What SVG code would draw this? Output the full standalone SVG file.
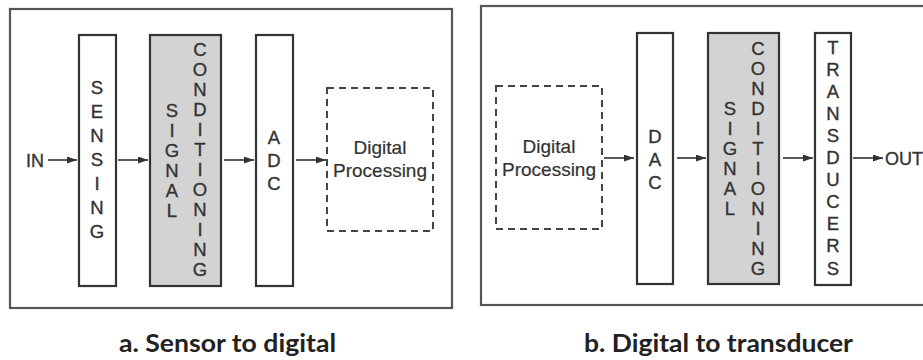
<svg xmlns="http://www.w3.org/2000/svg" width="923" height="360" viewBox="0 0 923 360">
<style>
.panel{fill:#fff;stroke:#555;stroke-width:2.2}
.blk{fill:#fff;stroke:#333;stroke-width:2.2}
.gray{fill:#d3d3d3;stroke:#333;stroke-width:2.2}
.dash{fill:none;stroke:#444;stroke-width:2;stroke-dasharray:7 5}
.lt{font-family:"Liberation Sans",Arial,sans-serif;font-size:18.5px;fill:#333;stroke:#333;stroke-width:0.35;text-anchor:middle}
.lbl{font-family:"Liberation Sans",Arial,sans-serif;font-size:18px;fill:#333;stroke:#333;stroke-width:0.35}
.dp{font-family:"Liberation Sans",Arial,sans-serif;font-size:19px;fill:#333;stroke:#333;stroke-width:0.2;text-anchor:middle}
.cap{font-family:"Lato","Open Sans",sans-serif;font-size:24px;font-weight:bold;fill:#222}
.conn line{stroke:#333;stroke-width:1.6;marker-end:url(#ah)}
</style>
<defs>
<marker id="ah" markerUnits="userSpaceOnUse" markerWidth="11" markerHeight="8" refX="10" refY="3.5" orient="auto">
<path d="M0,0 L10,3.5 L0,7 z" fill="#333"/>
</marker>
</defs>
<rect x="0" y="0" width="923" height="360" fill="#fff"/>
<g id="panelA">
<rect class="panel" x="10" y="9" width="442" height="299"/>
</g>
<g id="panelB">
<rect class="panel" x="481" y="6" width="460" height="299"/>
</g>

<!-- Panel a -->
<g id="in"><text class="lbl" x="26" y="166.5">IN</text></g>
<g id="sensing">
<rect class="blk" x="79" y="35" width="37" height="251"/>
<text class="lt"><tspan x="97" y="93.5">S</tspan><tspan x="97" y="117.5">E</tspan><tspan x="97" y="141.5">N</tspan><tspan x="97" y="165.5">S</tspan><tspan x="97" y="189.5">I</tspan><tspan x="97" y="213.5">N</tspan><tspan x="97" y="237.5">G</tspan></text>
</g>
<g id="sigcondA">
<rect class="gray" x="150" y="35" width="71" height="251"/>
<text class="lt"><tspan x="172" y="116.5">S</tspan><tspan x="172" y="136.5">I</tspan><tspan x="172" y="156.5">G</tspan><tspan x="172" y="176.5">N</tspan><tspan x="172" y="196.5">A</tspan><tspan x="172" y="216.5">L</tspan></text>
<text class="lt"><tspan x="200" y="55.5">C</tspan><tspan x="200" y="75.5">O</tspan><tspan x="200" y="95.5">N</tspan><tspan x="200" y="115.5">D</tspan><tspan x="200" y="135.5">I</tspan><tspan x="200" y="155.5">T</tspan><tspan x="200" y="175.5">I</tspan><tspan x="200" y="195.5">O</tspan><tspan x="200" y="215.5">N</tspan><tspan x="200" y="235.5">I</tspan><tspan x="200" y="255.5">N</tspan><tspan x="200" y="275.5">G</tspan></text>
</g>
<g id="adc">
<rect class="blk" x="256" y="35" width="37" height="251"/>
<text class="lt"><tspan x="274" y="143.5">A</tspan><tspan x="274" y="166.5">D</tspan><tspan x="274" y="189.5">C</tspan></text>
</g>
<g id="dpA">
<rect class="dash" x="327" y="88" width="106" height="143"/>
<text class="dp"><tspan x="380" y="154">Digital</tspan><tspan x="380" y="177">Processing</tspan></text>
</g>

<!-- Panel b -->
<g id="dpB">
<rect class="dash" x="496" y="86" width="106" height="143"/>
<text class="dp"><tspan x="549" y="153">Digital</tspan><tspan x="549" y="176">Processing</tspan></text>
</g>
<g id="dac">
<rect class="blk" x="637" y="33" width="36" height="251"/>
<text class="lt"><tspan x="655" y="142.5">D</tspan><tspan x="655" y="165.5">A</tspan><tspan x="655" y="188.5">C</tspan></text>
</g>
<g id="sigcondB">
<rect class="gray" x="708" y="33" width="71" height="251"/>
<text class="lt"><tspan x="730" y="114.5">S</tspan><tspan x="730" y="134.5">I</tspan><tspan x="730" y="154.5">G</tspan><tspan x="730" y="174.5">N</tspan><tspan x="730" y="194.5">A</tspan><tspan x="730" y="214.5">L</tspan></text>
<text class="lt"><tspan x="758" y="54.5">C</tspan><tspan x="758" y="74.5">O</tspan><tspan x="758" y="94.5">N</tspan><tspan x="758" y="114.5">D</tspan><tspan x="758" y="134.5">I</tspan><tspan x="758" y="154.5">T</tspan><tspan x="758" y="174.5">I</tspan><tspan x="758" y="194.5">O</tspan><tspan x="758" y="214.5">N</tspan><tspan x="758" y="234.5">I</tspan><tspan x="758" y="254.5">N</tspan><tspan x="758" y="274.5">G</tspan></text>
</g>
<g id="transducers">
<rect class="blk" x="815" y="33" width="36" height="252"/>
<text class="lt"><tspan x="833" y="53.5">T</tspan><tspan x="833" y="75.6">R</tspan><tspan x="833" y="97.7">A</tspan><tspan x="833" y="119.8">N</tspan><tspan x="833" y="141.9">S</tspan><tspan x="833" y="164">D</tspan><tspan x="833" y="186.1">U</tspan><tspan x="833" y="208.2">C</tspan><tspan x="833" y="230.3">E</tspan><tspan x="833" y="252.4">R</tspan><tspan x="833" y="274.5">S</tspan></text>
</g>
<g id="out"><text class="lbl" x="885" y="164.5">OUT</text></g>

<g id="connectors" class="conn">
<line x1="48" y1="160" x2="77" y2="160"/>
<line x1="118" y1="160" x2="148" y2="160"/>
<line x1="224" y1="160" x2="254" y2="160"/>
<line x1="296" y1="160" x2="326" y2="160"/>
<line x1="604" y1="158" x2="634" y2="158"/>
<line x1="677" y1="158" x2="706" y2="158"/>
<line x1="783" y1="158" x2="813" y2="158"/>
<line x1="853" y1="158" x2="883" y2="158"/>
</g>

<text class="cap" x="119" y="352" textLength="217" lengthAdjust="spacingAndGlyphs">a. Sensor to digital</text>
<text class="cap" x="584" y="352" textLength="269" lengthAdjust="spacingAndGlyphs">b. Digital to transducer</text>
</svg>
